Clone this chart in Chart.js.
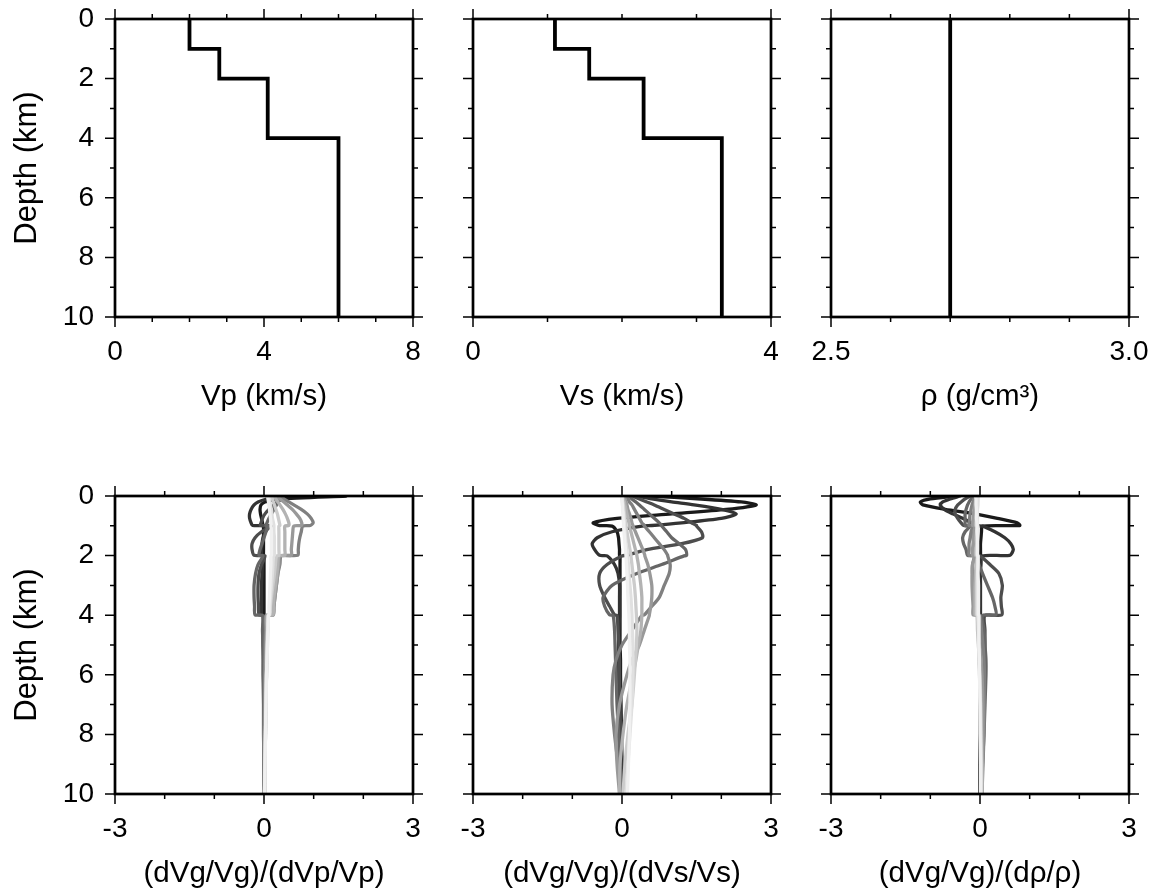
<!DOCTYPE html>
<html>
<head>
<meta charset="utf-8">
<title>Velocity model and group velocity sensitivity kernels</title>
<script src="https://cdn.jsdelivr.net/npm/chart.js@4.4.1/dist/chart.umd.min.js"></script>
<style>
  html, body { margin: 0; padding: 0; background: #fff; overflow: hidden; }
  #wrap { position: relative; width: 1156px; height: 892px; }
  #wrap canvas { position: absolute; }
</style>
</head>
<body>
<div id="wrap">
  <canvas id="c-vp"></canvas>
  <canvas id="c-vs"></canvas>
  <canvas id="c-rho"></canvas>
  <canvas id="k-vp"></canvas>
  <canvas id="k-vs"></canvas>
  <canvas id="k-rho"></canvas>
</div>
<script>
// layered model: depth of layer top / bottom (km) and values per layer
const layerTop = [0, 1, 2, 4];
const layerBottom = [1, 2, 4, 10];
const vpLayers = [2.0, 2.8, 4.1, 6.0];
const vsLayers = [1.1, 1.56, 2.29, 3.34];
const rhoLayers = [2.7, 2.7, 2.7, 2.7];

// depth ticks (km), labelled every 2
const depthMajor = [0, 2, 4, 6, 8, 10];

// x axis tick labels for each panel
const vpTicks = [0, 4, 8];
const vsTicks = [0, 4];
const rhoTicks = [2.5, 3.0];
const kernelTicks = [-3, 0, 3];

// depths at which the kernels are sampled (km); pairs around 1, 2 and 4 km are the interfaces
const kernelDepth = [0, 0.1, 0.2, 0.3, 0.45, 0.6, 0.75, 0.9, 0.99, 1.01, 1.2, 1.4, 1.6, 1.8, 1.99,
  2.01, 2.3, 2.6, 3.0, 3.4, 3.7, 3.99, 4.01, 4.5, 5, 5.5, 6, 7, 8, 9, 10];

// one gray per period, short (dark) to long (light)
const periodGrays = ['#1a1a1a', '#333333', '#4d4d4d', '#666666', '#808080',
  '#999999', '#b3b3b3', '#cccccc', '#e0e0e0', '#f0f0f0'];

// (dVg/Vg)/(dVp/Vp)
const vpKernels = [
  [1.65, 0.3, 0.02, -0.06, -0.08, -0.07, -0.05, -0.03, -0.02, -0.01, -0.01, -0.01, -0.01, -0.01, -0.01, 0, 0, 0, 0, 0, 0, 0, 0, 0, 0, 0, 0, 0, 0, 0, 0],
  [0.35, 0.05, -0.12, -0.2, -0.26, -0.29, -0.29, -0.26, -0.23, 0.1, 0.03, -0.02, -0.04, -0.05, -0.05, -0.02, -0.03, -0.04, -0.05, -0.05, -0.05, -0.05, -0.01, -0.01, -0.01, 0, 0, 0, 0, 0, 0],
  [0.4, 0.35, 0.27, 0.2, 0.1, 0.02, -0.03, -0.06, -0.07, 0.15, -0.05, -0.18, -0.24, -0.24, -0.2, 0.02, -0.05, -0.1, -0.12, -0.12, -0.11, -0.1, -0.02, -0.02, -0.02, -0.01, -0.01, 0, 0, 0, 0],
  [0.3, 0.3, 0.28, 0.25, 0.2, 0.15, 0.1, 0.06, 0.04, 0.08, 0.04, 0.0, -0.04, -0.08, -0.1, -0.02, -0.12, -0.17, -0.2, -0.2, -0.19, -0.18, -0.03, -0.03, -0.02, -0.02, -0.02, -0.01, -0.01, 0, 0],
  [0.3, 0.4, 0.5, 0.6, 0.75, 0.87, 0.95, 0.99, 0.93, 0.78, 0.75, 0.72, 0.7, 0.69, 0.68, 0.35, 0.32, 0.28, 0.25, 0.22, 0.2, 0.18, 0.04, 0.03, 0.02, 0.02, 0.01, 0.01, 0, 0, 0],
  [0.25, 0.32, 0.4, 0.47, 0.57, 0.65, 0.72, 0.76, 0.75, 0.6, 0.58, 0.57, 0.56, 0.55, 0.55, 0.32, 0.3, 0.28, 0.25, 0.22, 0.2, 0.19, 0.05, 0.05, 0.04, 0.03, 0.03, 0.02, 0.01, 0.01, 0],
  [0.2, 0.24, 0.28, 0.32, 0.38, 0.43, 0.47, 0.5, 0.5, 0.42, 0.42, 0.42, 0.42, 0.42, 0.42, 0.3, 0.28, 0.26, 0.23, 0.2, 0.19, 0.18, 0.07, 0.07, 0.06, 0.05, 0.05, 0.04, 0.03, 0.02, 0.01],
  [0.15, 0.17, 0.19, 0.21, 0.24, 0.27, 0.29, 0.31, 0.32, 0.3, 0.3, 0.3, 0.3, 0.3, 0.3, 0.25, 0.23, 0.21, 0.18, 0.15, 0.13, 0.12, 0.08, 0.07, 0.06, 0.06, 0.05, 0.04, 0.03, 0.02, 0.02],
  [0.1, 0.11, 0.12, 0.13, 0.15, 0.16, 0.17, 0.19, 0.2, 0.2, 0.2, 0.21, 0.21, 0.21, 0.21, 0.19, 0.18, 0.17, 0.15, 0.13, 0.12, 0.11, 0.09, 0.08, 0.07, 0.06, 0.05, 0.04, 0.03, 0.02, 0.01],
  [0.07, 0.08, 0.09, 0.1, 0.11, 0.12, 0.13, 0.14, 0.14, 0.14, 0.15, 0.15, 0.15, 0.15, 0.15, 0.14, 0.14, 0.13, 0.12, 0.11, 0.1, 0.1, 0.09, 0.08, 0.07, 0.06, 0.05, 0.04, 0.03, 0.02, 0.01]
];

// (dVg/Vg)/(dVs/Vs)
const vsKernels = [
  [0.5, 1.6, 2.4, 2.7, 2.1, 1.0, -0.1, -0.58, -0.45, -0.2, -0.1, -0.07, -0.06, -0.05, -0.05, -0.04, -0.04, -0.04, -0.04, -0.04, -0.04, -0.04, -0.04, -0.04, -0.04, -0.03, -0.03, -0.02, -0.01, 0, 0],
  [0.3, 0.6, 1.0, 1.45, 2.0, 2.3, 2.0, 1.2, 0.6, 0.4, -0.2, -0.5, -0.6, -0.55, -0.45, -0.3, -0.15, -0.08, -0.05, -0.05, -0.05, -0.05, -0.05, -0.06, -0.07, -0.08, -0.08, -0.07, -0.05, -0.03, -0.02],
  [0.2, 0.35, 0.5, 0.65, 0.85, 1.05, 1.25, 1.4, 1.5, 1.5, 1.6, 1.62, 1.2, 0.5, 0.1, 0.0, -0.3, -0.45, -0.45, -0.35, -0.25, -0.15, -0.1, -0.08, -0.06, -0.05, -0.05, -0.04, -0.03, -0.02, -0.01],
  [0.15, 0.2, 0.28, 0.35, 0.45, 0.55, 0.65, 0.75, 0.8, 0.8, 0.9, 1.0, 1.15, 1.28, 1.3, 1.25, 0.8, 0.3, -0.2, -0.38, -0.35, -0.25, -0.18, -0.15, -0.14, -0.13, -0.12, -0.1, -0.07, -0.04, -0.02],
  [0.1, 0.12, 0.15, 0.2, 0.25, 0.3, 0.35, 0.4, 0.45, 0.45, 0.55, 0.65, 0.75, 0.85, 0.92, 0.92, 0.97, 0.95, 0.85, 0.75, 0.6, 0.45, 0.4, 0.2, 0.0, -0.12, -0.18, -0.2, -0.15, -0.08, -0.03],
  [0.05, 0.06, 0.08, 0.1, 0.12, 0.15, 0.18, 0.2, 0.22, 0.22, 0.27, 0.32, 0.37, 0.42, 0.46, 0.46, 0.52, 0.56, 0.6, 0.6, 0.58, 0.55, 0.55, 0.45, 0.35, 0.2, 0.1, -0.05, -0.12, -0.1, -0.05],
  [0.02, 0.03, 0.05, 0.06, 0.08, 0.1, 0.12, 0.14, 0.15, 0.15, 0.18, 0.21, 0.24, 0.27, 0.3, 0.3, 0.33, 0.35, 0.38, 0.4, 0.4, 0.4, 0.4, 0.38, 0.33, 0.28, 0.22, 0.1, 0.02, -0.04, -0.05],
  [0, 0.01, 0.02, 0.03, 0.04, 0.05, 0.06, 0.07, 0.08, 0.08, 0.1, 0.12, 0.14, 0.16, 0.18, 0.18, 0.2, 0.22, 0.25, 0.27, 0.28, 0.29, 0.29, 0.3, 0.29, 0.27, 0.25, 0.2, 0.12, 0.06, 0.02],
  [0, 0, 0.01, 0.01, 0.02, 0.03, 0.04, 0.05, 0.05, 0.05, 0.06, 0.07, 0.08, 0.1, 0.11, 0.11, 0.13, 0.14, 0.16, 0.18, 0.19, 0.2, 0.2, 0.21, 0.22, 0.22, 0.22, 0.2, 0.16, 0.12, 0.08],
  [0, 0, 0, 0.01, 0.01, 0.02, 0.02, 0.03, 0.03, 0.03, 0.04, 0.05, 0.06, 0.07, 0.08, 0.08, 0.09, 0.1, 0.11, 0.12, 0.13, 0.14, 0.14, 0.15, 0.15, 0.16, 0.16, 0.16, 0.15, 0.13, 0.11]
];

// (dVg/Vg)/(drho/rho)
const rhoKernels = [
  [-0.5, -1.0, -1.2, -1.15, -0.7, -0.1, 0.35, 0.75, 0.8, 0.05, 0.03, 0.02, 0.01, 0.01, 0.01, 0, 0, 0, 0, 0, 0, 0, 0, 0, 0, 0, 0, 0, 0, 0, 0],
  [-0.4, -0.6, -0.75, -0.8, -0.72, -0.55, -0.35, -0.18, -0.1, 0.05, 0.3, 0.5, 0.62, 0.67, 0.6, 0.05, 0.02, 0.01, 0.01, 0.01, 0.01, 0.01, 0.01, 0.01, 0.01, 0, 0, 0, 0, 0, 0],
  [-0.2, -0.3, -0.38, -0.45, -0.5, -0.5, -0.45, -0.38, -0.33, -0.15, -0.15, -0.14, -0.12, -0.1, -0.08, 0.0, 0.2, 0.38, 0.45, 0.42, 0.43, 0.44, 0.1, 0.1, 0.1, 0.09, 0.08, 0.06, 0.04, 0.03, 0.02],
  [-0.15, -0.18, -0.22, -0.25, -0.28, -0.3, -0.3, -0.3, -0.3, -0.2, -0.3, -0.35, -0.33, -0.28, -0.25, -0.1, -0.02, 0.05, 0.15, 0.25, 0.3, 0.32, 0.05, 0.08, 0.1, 0.12, 0.12, 0.1, 0.08, 0.05, 0.03],
  [-0.1, -0.12, -0.14, -0.16, -0.18, -0.2, -0.21, -0.22, -0.22, -0.15, -0.18, -0.2, -0.22, -0.22, -0.22, -0.12, -0.15, -0.15, -0.12, -0.08, -0.05, -0.03, 0.0, 0.03, 0.06, 0.08, 0.09, 0.09, 0.08, 0.06, 0.04],
  [-0.08, -0.09, -0.1, -0.11, -0.12, -0.13, -0.14, -0.15, -0.15, -0.1, -0.12, -0.13, -0.14, -0.15, -0.15, -0.1, -0.15, -0.16, -0.16, -0.15, -0.14, -0.14, -0.05, -0.03, 0.0, 0.02, 0.04, 0.06, 0.06, 0.05, 0.04],
  [-0.06, -0.06, -0.07, -0.07, -0.08, -0.08, -0.09, -0.09, -0.09, -0.06, -0.07, -0.08, -0.08, -0.09, -0.09, -0.06, -0.08, -0.09, -0.1, -0.1, -0.1, -0.1, -0.06, -0.05, -0.03, -0.02, 0, 0.02, 0.03, 0.04, 0.04],
  [-0.05, -0.05, -0.05, -0.06, -0.06, -0.06, -0.06, -0.07, -0.07, -0.05, -0.06, -0.06, -0.06, -0.07, -0.07, -0.05, -0.06, -0.06, -0.07, -0.07, -0.07, -0.07, -0.05, -0.04, -0.03, -0.02, -0.01, 0.01, 0.02, 0.03, 0.03],
  [-0.04, -0.04, -0.04, -0.04, -0.05, -0.05, -0.05, -0.05, -0.05, -0.04, -0.04, -0.05, -0.05, -0.05, -0.05, -0.04, -0.04, -0.05, -0.05, -0.05, -0.05, -0.05, -0.04, -0.03, -0.03, -0.02, -0.01, 0, 0.01, 0.02, 0.02],
  [-0.09, -0.08, -0.08, -0.08, -0.07, -0.07, -0.07, -0.06, -0.06, -0.06, -0.06, -0.05, -0.05, -0.05, -0.05, -0.04, -0.04, -0.04, -0.03, -0.03, -0.03, -0.03, -0.02, -0.02, -0.02, -0.01, -0.01, 0, 0, 0.01, 0.01]
];

const PLOT = 298;                 // frame size in px
const M_L = 115, M_R = 30, M_T = 19, M_B = 105;
const FONT = '"Liberation Sans", Arial, Helvetica, sans-serif';
const TICK_SIZE = 28, XTITLE_SIZE = 29.5, YTITLE_SIZE = 31;

function near(a, b) { return Math.abs(a - b) < 1e-6; }

// GMT-like frame: thick box with outward ticks on all four sides
const gmtFrame = {
  id: 'gmtFrame',
  afterDraw(chart, args, opts) {
    const { ctx, chartArea: a, scales } = chart;
    const xs = scales.x, ys = scales.y;
    ctx.save();
    ctx.strokeStyle = '#000';
    ctx.lineWidth = 1.5;
    ctx.beginPath();
    xs.ticks.forEach(t => {
      const p = xs.getPixelForValue(t.value);
      const len = opts.xMajor.some(m => near(m, t.value)) ? 10 : 5;
      ctx.moveTo(p, a.bottom); ctx.lineTo(p, a.bottom + len);
      ctx.moveTo(p, a.top); ctx.lineTo(p, a.top - len);
    });
    ys.ticks.forEach(t => {
      const p = ys.getPixelForValue(t.value);
      const len = opts.yMajor.some(m => near(m, t.value)) ? 10 : 5;
      ctx.moveTo(a.left, p); ctx.lineTo(a.left - len, p);
      ctx.moveTo(a.right, p); ctx.lineTo(a.right + len, p);
    });
    ctx.stroke();
    ctx.lineWidth = 2.7;
    ctx.strokeRect(a.left, a.top, a.right - a.left, a.bottom - a.top);
    ctx.restore();
  }
};

function makePanel(id, left, top, xAxis, showDepth, datasets) {
  const cv = document.getElementById(id);
  cv.width = M_L + PLOT + M_R;
  cv.height = M_T + PLOT + M_B;
  cv.style.left = (left - M_L) + 'px';
  cv.style.top = (top - M_T) + 'px';
  const tickFont = { family: FONT, size: TICK_SIZE };
  return new Chart(cv, {
    type: 'scatter',
    data: { datasets },
    options: {
      responsive: false,
      animation: false,
      devicePixelRatio: 1,
      events: [],
      layout: { padding: { left: 0, top: M_T, right: M_R, bottom: 0 } },
      plugins: {
        legend: { display: false },
        tooltip: { enabled: false },
        gmtFrame: { xMajor: xAxis.labels, yMajor: depthMajor }
      },
      scales: {
        x: {
          type: 'linear', position: 'bottom',
          min: xAxis.min, max: xAxis.max,
          grid: { display: false, drawTicks: false },
          border: { display: false },
          ticks: {
            stepSize: xAxis.step, autoSkip: false, maxRotation: 0,
            padding: 18, color: '#000', font: tickFont,
            callback: v => {
              const m = xAxis.labels.find(l => near(l, v));
              return m === undefined ? '' : xAxis.fmt(m);
            }
          },
          title: {
            display: true, text: xAxis.title, color: '#000',
            font: { family: FONT, size: XTITLE_SIZE }, padding: { top: 0, bottom: 7 }
          },
          afterFit: s => { s.height = M_B; s.paddingLeft = 0; s.paddingRight = 0; }
        },
        y: {
          type: 'linear', position: 'left', reverse: true,
          min: 0, max: 10,
          grid: { display: false, drawTicks: false },
          border: { display: false },
          ticks: {
            display: showDepth, stepSize: 1, autoSkip: false,
            padding: 21, color: '#000', font: tickFont,
            callback: v => depthMajor.some(m => near(m, v)) ? String(v) : ''
          },
          title: {
            display: showDepth, text: 'Depth (km)', color: '#000',
            font: { family: FONT, size: YTITLE_SIZE }, padding: { top: 9, bottom: 0 }
          },
          afterFit: s => { s.width = M_L; s.paddingTop = 0; s.paddingBottom = 0; }
        }
      }
    },
    plugins: [gmtFrame]
  });
}

// staircase profile through the layers
function profile(values) {
  const pts = [];
  values.forEach((v, i) => {
    pts.push({ x: v, y: layerTop[i] });
    pts.push({ x: v, y: layerBottom[i] });
  });
  return [{
    data: pts, showLine: true, borderColor: '#000', borderWidth: 3.8,
    pointRadius: 0, tension: 0, borderJoinStyle: 'miter'
  }];
}

// one line per period, light ones drawn on top
function kernelSets(kernels) {
  return kernels.map((vals, i) => ({
    data: kernelDepth.map((d, j) => ({ x: vals[j], y: d })),
    showLine: true,
    borderColor: periodGrays[i],
    borderWidth: 3.3,
    pointRadius: 0,
    tension: 0.25,
    borderJoinStyle: 'round',
    borderCapStyle: 'round',
    order: kernels.length - i
  }));
}

const intFmt = v => String(v);
const kernelAxis = title => ({ min: -3, max: 3, step: 1, labels: kernelTicks, fmt: intFmt, title });

const COL = [115, 473, 831];
const ROW = [19, 496];

makePanel('c-vp', COL[0], ROW[0], { min: 0, max: 8, step: 1, labels: vpTicks, fmt: intFmt, title: 'Vp (km/s)' }, true, profile(vpLayers));
makePanel('c-vs', COL[1], ROW[0], { min: 0, max: 4, step: 1, labels: vsTicks, fmt: intFmt, title: 'Vs (km/s)' }, false, profile(vsLayers));
makePanel('c-rho', COL[2], ROW[0], { min: 2.5, max: 3.0, step: 0.1, labels: rhoTicks, fmt: v => v.toFixed(1), title: 'ρ (g/cm³)' }, false, profile(rhoLayers));

makePanel('k-vp', COL[0], ROW[1], kernelAxis('(dVg/Vg)/(dVp/Vp)'), true, kernelSets(vpKernels));
makePanel('k-vs', COL[1], ROW[1], kernelAxis('(dVg/Vg)/(dVs/Vs)'), false, kernelSets(vsKernels));
makePanel('k-rho', COL[2], ROW[1], kernelAxis('(dVg/Vg)/(dρ/ρ)'), false, kernelSets(rhoKernels));
</script>
</body>
</html>
